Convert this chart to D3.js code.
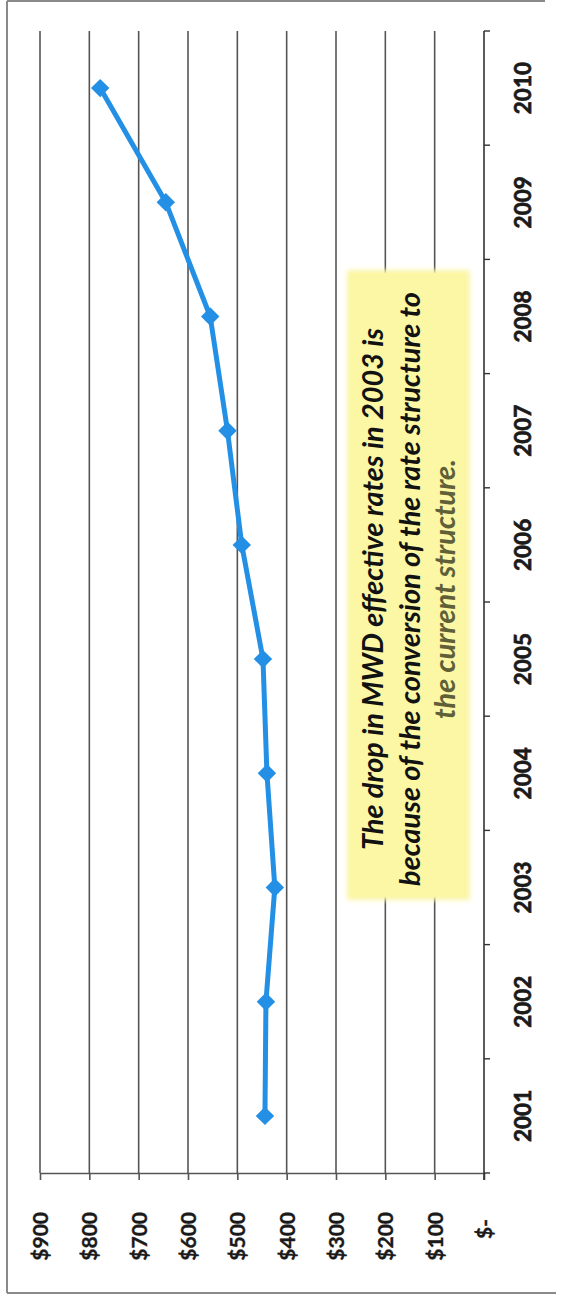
<!DOCTYPE html>
<html>
<head>
<meta charset="utf-8">
<script src="https://cdn.jsdelivr.net/npm/d3@7"></script>
<style>
  html, body { margin: 0; padding: 0; background: #ffffff; }
  svg { display: block; }
</style>
</head>
<body>
<script>
// ---- data ----
const years = ["2001", "2002", "2003", "2004", "2005", "2006", "2007", "2008", "2009", "2010"];
const rates = [444, 442, 424, 440, 448, 491, 520, 555, 645, 778];
const valueTicks = [0, 100, 200, 300, 400, 500, 600, 700, 800, 900];
const noteLines = [
  "The drop in MWD effective rates in 2003 is",
  "because of the conversion of the rate structure to",
  "the current structure."
];

const W = 563, H = 1299;
const svg = d3.select("body").append("svg").attr("width", W).attr("height", H);

// rotated chart: value axis runs horizontally (right = $0), categories vertically (bottom = 2001)
const x = d3.scaleLinear().domain([0, 900]).range([484, 40]);
const y = d3.scaleBand().domain(years).range([1173, 31]).padding(0);
const yc = d => y(d) + y.bandwidth() / 2;

const gridColor = "#555555";
const styleLbl = (sel, size, sw) => sel
  .style("font-family", "Lato, 'Liberation Sans', sans-serif")
  .style("font-weight", "700").style("font-size", size + "px")
  .attr("fill", "#1a1a1a").attr("stroke", "#1a1a1a").attr("stroke-width", sw);

// outer frame
const frame = svg.append("g").attr("stroke", "#8a8a8a").attr("stroke-width", 2).attr("fill", "none");
frame.append("line").attr("x1", 7).attr("y1", 1).attr("x2", 545).attr("y2", 1);
frame.append("line").attr("x1", 7).attr("y1", 1).attr("x2", 7).attr("y2", 1293);
frame.append("line").attr("x1", 7).attr("y1", 1293).attr("x2", 556).attr("y2", 1293);

// gridlines
svg.append("g").selectAll("line")
  .data(valueTicks.filter(v => v > 0))
  .join("line")
  .attr("x1", d => x(d)).attr("x2", d => x(d))
  .attr("y1", 31).attr("y2", 1173)
  .attr("stroke", gridColor).attr("stroke-width", 1.6);

// annotation box
const boxG = svg.append("g");
const defs = svg.append("defs");
defs.append("filter").attr("id", "soft").attr("x", "-10%").attr("y", "-5%").attr("width", "120%").attr("height", "110%")
  .append("feGaussianBlur").attr("stdDeviation", 2.5);
boxG.append("rect").attr("x", 347).attr("y", 270).attr("width", 123).attr("height", 630)
  .attr("fill", "#faf6a6").attr("filter", "url(#soft)");
boxG.append("rect").attr("x", 350).attr("y", 273).attr("width", 114).attr("height", 624)
  .attr("fill", "#fbf7a4");

// value axis (original y-axis), drawn along the bottom
const xAxis = svg.append("g").attr("transform", "translate(0,1173)")
  .call(d3.axisBottom(x).tickValues(valueTicks).tickSize(7).tickSizeOuter(0)
    .tickFormat(d => d === 0 ? "$-" : "$" + d));
xAxis.select(".domain").attr("stroke", gridColor).attr("stroke-width", 1.6);
xAxis.selectAll(".tick line").attr("stroke", gridColor).attr("stroke-width", 1.6);
xAxis.selectAll(".tick text")
  .attr("x", 0).attr("y", null).attr("dy", "0.36em")
  .attr("transform", d => `translate(0,${d === 0 ? 46 : 39}) rotate(-90)`)
  .style("text-anchor", "end")
  .call(styleLbl, 21, 0.35);

// category axis (original x-axis), drawn on the right
const yAxis = svg.append("g").attr("transform", "translate(484,0)")
  .call(d3.axisRight(y).tickSize(0).tickSizeOuter(0));
yAxis.select(".domain").attr("stroke", "#333").attr("stroke-width", 1.6)
  .attr("d", `M0,${31}V${1180}`);
yAxis.selectAll(".tick text")
  .attr("x", 0).attr("dy", "0.36em")
  .attr("transform", "translate(39,0) rotate(-90)")
  .style("text-anchor", "middle")
  .call(styleLbl, 22.5, 0.7);
// category boundary tick marks
const bounds = years.map(d => y(d)).concat([y(years[0]) + y.bandwidth()]);
yAxis.append("g").selectAll("line").data(bounds).join("line")
  .attr("x1", 0).attr("x2", 6).attr("y1", d => d).attr("y2", d => d)
  .attr("stroke", "#333").attr("stroke-width", 1.4);

// series
const series = years.map((yr, i) => ({ year: yr, v: rates[i] }));
svg.append("path").datum(series)
  .attr("fill", "none").attr("stroke", "#2390e6").attr("stroke-width", 5)
  .attr("stroke-linejoin", "round")
  .attr("d", d3.line().x(d => x(d.v)).y(d => yc(d.year)));
svg.append("g").selectAll("path").data(series).join("path")
  .attr("d", d3.symbol(d3.symbolSquare, 170))
  .attr("transform", d => `translate(${x(d.v)},${yc(d.year)}) rotate(45)`)
  .attr("fill", "#2390e6");

// annotation text
const noteG = svg.append("g").attr("transform", "translate(0,589)");
const noteX = [373, 410, 445];
const nt = noteG.selectAll("text").data(noteLines).join("text")
  .attr("transform", (d, i) => `translate(${noteX[i]},0) rotate(-90)`)
  .attr("dy", "0.36em")
  .style("text-anchor", "middle")
  .style("font-family", "Lato, 'Liberation Sans', sans-serif")
  .style("font-style", "italic").style("font-weight", "bold")
  .style("font-size", "20px")
  .attr("fill", (d, i) => i === 2 ? "#5f5f38" : "#121212")
  .text(d => d);
// fit font size so line 2 spans the measured width
const len2 = nt.nodes()[1].getComputedTextLength();
const fs = 20 * 594 / len2;
nt.style("font-size", fs.toFixed(2) + "px");
</script>
</body>
</html>
